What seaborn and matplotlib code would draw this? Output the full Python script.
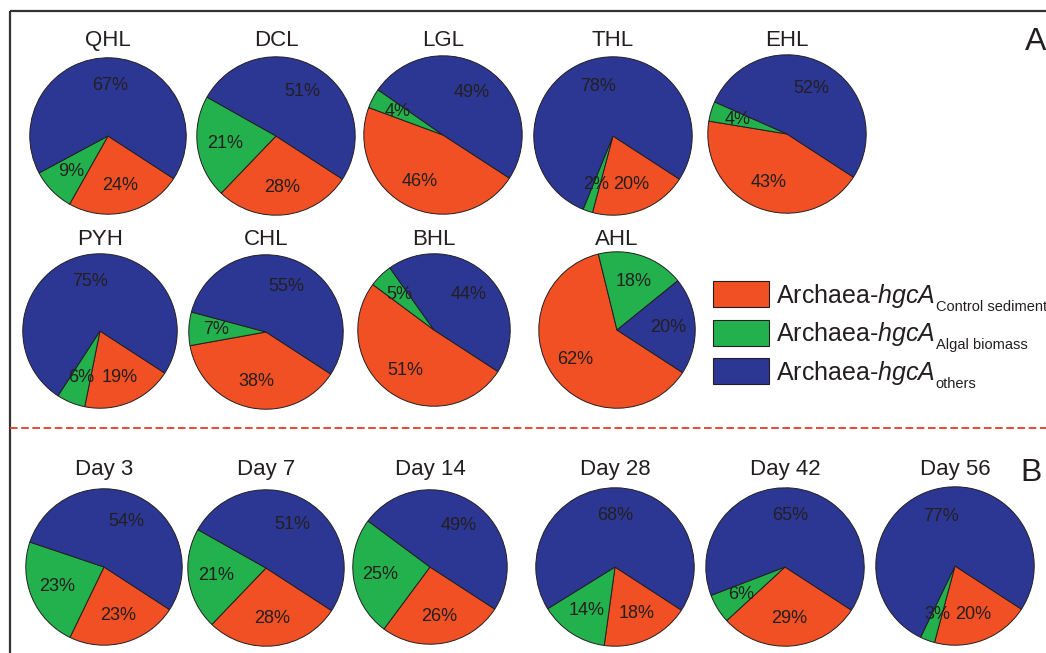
import matplotlib
matplotlib.use("Agg")
import matplotlib.pyplot as plt
from matplotlib.patches import Rectangle
import seaborn as sns

# panel A: lakes
lakes = ["QHL", "DCL", "LGL", "THL", "EHL", "PYH", "CHL", "BHL", "AHL"]
lake_control = [24, 28, 46, 20, 43, 19, 38, 51, 62]
lake_algal = [9, 21, 4, 2, 4, 6, 7, 5, 18]
lake_others = [67, 51, 49, 78, 52, 75, 55, 44, 20]

# panel B: incubation days
days = ["Day 3", "Day 7", "Day 14", "Day 28", "Day 42", "Day 56"]
day_control = [23, 28, 26, 18, 29, 20]
day_algal = [23, 21, 25, 14, 6, 3]
day_others = [54, 51, 49, 68, 65, 77]

groups = ["Control sediment", "Algal biomass", "others"]
colors = ["#F05023", "#23B14D", "#2C3794"]

W, H = 1046, 653
INK = "#231F20"

# pie centre x, centre y, radius, title baseline (pixels from top-left)
lake_layout = [(108, 136, 79, 46), (276, 136, 80, 46), (443, 135, 80, 46),
               (613, 136, 80, 46), (787, 134, 80, 46),
               (100, 331, 78, 245), (266, 332, 78, 245), (434, 330, 77, 245),
               (617, 330, 79, 245)]
day_layout = [(104, 567, 79, 475), (266, 568, 79, 475), (430, 567, 78, 475),
              (615, 567, 80, 475), (785, 567, 80, 475), (955, 566, 80, 475)]

sns.set_theme(style="white")
plt.rcParams["font.family"] = ["Liberation Sans", "DejaVu Sans"]
plt.rcParams["mathtext.fontset"] = "custom"
plt.rcParams["mathtext.rm"] = "Liberation Sans"
plt.rcParams["mathtext.it"] = "Liberation Sans:italic"
palette = sns.color_palette(colors)

fig = plt.figure(figsize=(W / 100, H / 100), dpi=100)
renderer = fig.canvas.get_renderer()

# background layer in pixel coordinates for frame, divider, legend
bg = fig.add_axes([0, 0, 1, 1])
bg.set_xlim(0, W)
bg.set_ylim(H, 0)
bg.axis("off")
bg.plot([10, 10], [11, H + 5], color="#333333", lw=1.6, solid_capstyle="butt")
bg.plot([10, W + 5], [11, 11], color="#333333", lw=1.6, solid_capstyle="butt")
bg.plot([10, W + 5], [428, 428], color="#E63A27", lw=1.3, dashes=(4.2, 2.0))
bg.text(1036, 50, "A", fontsize=23, color=INK, ha="center", va="baseline")
bg.text(1031, 481, "B", fontsize=23, color=INK, ha="center", va="baseline")

for i, (grp, col) in enumerate(zip(groups, palette)):
    y0 = 281 + i * 38.5
    bg.add_patch(Rectangle((713, y0), 56, 26, facecolor=col, edgecolor=INK, lw=0.8))
    main = bg.text(776, y0 + 22, r"Archaea-$\mathit{hgcA}$", fontsize=18,
                   color=INK, ha="left", va="baseline")
    x_end = bg.transData.inverted().transform(
        main.get_window_extent(renderer).get_points())[1, 0]
    bg.text(x_end + 0.5, y0 + 30, grp, fontsize=10.5, color=INK,
            ha="left", va="baseline")


def draw_pie(name, values, cx, cy, r, ty):
    ax = fig.add_axes([(cx - r) / W, 1 - (cy + r) / H, 2 * r / W, 2 * r / H])
    _, _, autotexts = ax.pie(
        values, colors=palette, startangle=-33, counterclock=False,
        autopct="%d", pctdistance=0.65,
        wedgeprops=dict(edgecolor=INK, linewidth=0.7),
        textprops=dict(fontsize=13, color=INK),
    )
    for t, v in zip(autotexts, values):
        t.set_text(f"{v}%")
    ax.set_xlim(-1.01, 1.01)
    ax.set_ylim(-1.01, 1.01)
    fig.text(cx / W, 1 - ty / H, name, fontsize=16, color=INK,
             ha="center", va="baseline")


for k, name in enumerate(lakes):
    vals = [lake_control[k], lake_algal[k], lake_others[k]]
    draw_pie(name, vals, *lake_layout[k])

for k, name in enumerate(days):
    vals = [day_control[k], day_algal[k], day_others[k]]
    draw_pie(name, vals, *day_layout[k])

fig.savefig("out.png", dpi=100)
